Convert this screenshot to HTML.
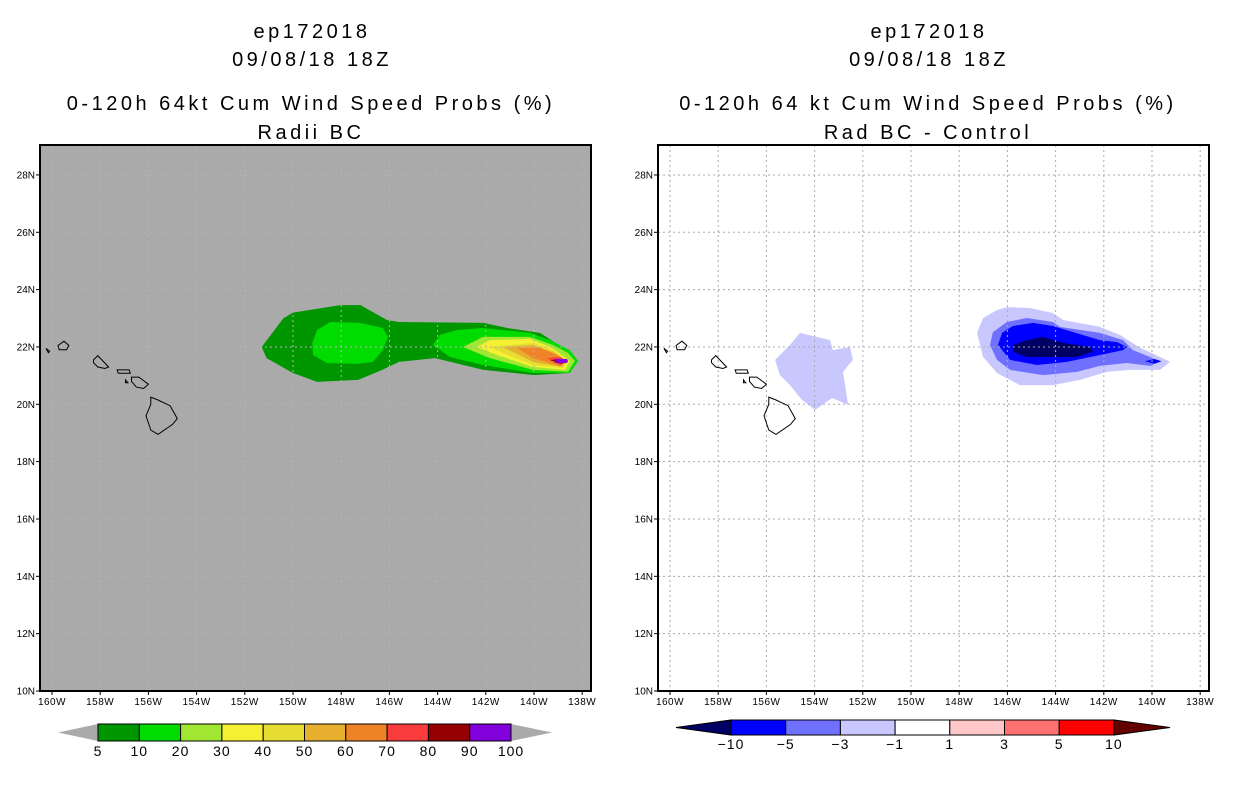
<!DOCTYPE html>
<html><head><meta charset="utf-8"><style>
body{margin:0;background:#fff;width:1236px;height:800px;overflow:hidden}
svg{display:block}
text{font-family:"Liberation Sans",sans-serif}
#titles text{letter-spacing:3.5px}
</style></head><body>
<svg id="c" width="1236" height="800">
<g id="titles" font-size="20" text-anchor="middle" fill="#000">
<text x="312" y="38">ep172018</text>
<text x="312" y="66">09/08/18 18Z</text>
<text x="311" y="110">0-120h 64kt Cum Wind Speed Probs (%)</text>
<text x="311" y="139">Radii BC</text>
<text x="929" y="38">ep172018</text>
<text x="929" y="66">09/08/18 18Z</text>
<text x="928" y="110">0-120h 64 kt Cum Wind Speed Probs (%)</text>
<text x="928" y="139">Rad BC - Control</text>
</g>
</svg>
<script>
// Probability contour levels (left panel), lon in deg W, lat in deg N
const probLevels=[5,10,20,30,40,50,60,70,80,90,100];
const probColors=["#009600","#00dc00","#a0e632","#f5f032","#e6dc32","#e6af2d","#f08228","#fa3c3c","#960000","#8200dc"];
const probContours=[
 {lvl:0,lon:[151.3,150.4,150.0,148.05,147.2,146.1,145.6,142.1,141.1,139.75,138.8,138.2,138.6,140.0,142.1,144.1,145.6,146.3,147.3,149.0,150.0,151.1],lat:[22.0,23.0,23.2,23.46,23.46,22.94,22.87,22.84,22.66,22.49,21.97,21.51,21.09,21.02,21.2,21.61,21.48,21.2,20.85,20.78,21.09,21.61]},
 {lvl:1,lon:[149.2,149.0,148.46,147.22,146.27,146.06,146.27,146.68,147.34,148.59,149.17],lat:[22.14,22.59,22.87,22.84,22.66,22.35,21.89,21.48,21.41,21.44,21.72]},
 {lvl:1,lon:[144.19,143.9,143.2,142.12,140.17,139.34,138.51,138.17,138.51,140.04,142.12,143.49],lat:[22.07,22.42,22.59,22.66,22.49,22.24,21.89,21.51,21.09,21.09,21.37,21.65]},
 {lvl:2,lon:[142.95,142.12,140.17,139.21,138.59,138.3,138.59,140.04,141.83],lat:[22.0,22.35,22.35,22.07,21.79,21.51,21.13,21.2,21.61]},
 {lvl:3,lon:[142.37,141.83,140.17,139.25,138.51,138.71,140.04,141.54],lat:[22.0,22.24,22.28,21.97,21.51,21.2,21.3,21.72]},
 {lvl:4,lon:[141.83,140.04,139.21,138.63,138.8,140.04,141.29],lat:[22.0,22.14,21.89,21.51,21.27,21.37,21.79]},
 {lvl:5,lon:[141.29,140.04,139.13,138.67,138.84,140.04],lat:[22.0,22.07,21.79,21.51,21.3,21.48]},
 {lvl:6,lon:[140.71,139.75,139.05,138.71,138.92,140.04],lat:[21.97,21.97,21.72,21.51,21.34,21.61]},
 {lvl:7,lon:[139.46,138.92,138.59,138.92],lat:[21.61,21.65,21.51,21.37]},
 {lvl:8,lon:[139.34,138.84,138.59,138.84],lat:[21.54,21.58,21.51,21.41]},
 {lvl:9,lon:[139.13,138.63,138.59,138.63,139.13],lat:[21.58,21.58,21.51,21.44,21.44]}
];
// Difference contours (right panel)
const diffLabels=["-10","-5","-3","-1","1","3","5","10"];
const diffColors=["#000064","#0000ff","#7070ff","#c8c8ff","#ffffff","#ffc8c8","#ff7070","#ff0000","#fa0000"];
const diffContours=[
 {lvl:3,lon:[147.26,147.01,146.43,146.02,145.06,144.11,143.69,142.16,141.33,140.5,139.67,139.25,139.67,140.91,141.87,142.99,144.11,145.48,146.43,147.01],lat:[22.49,23.01,23.29,23.39,23.36,23.18,22.94,22.7,22.42,21.97,21.65,21.48,21.2,21.2,21.13,20.85,20.67,20.67,21.09,21.65]},
 {lvl:3,lon:[155.02,154.61,153.36,153.24,152.53,152.41,152.82,152.61,153.28,153.98,154.52,155.02,155.44,155.64],lat:[22.07,22.49,22.24,21.89,22.0,21.55,21.13,19.98,20.22,19.8,20.15,20.67,21.02,21.55]},
 {lvl:2,lon:[146.72,146.6,146.02,145.19,144.11,143.82,142.16,141.2,140.79,140.08,139.67,140.08,141.04,142.16,143.11,144.52,145.89,146.43],lat:[22.07,22.52,22.87,23.01,22.87,22.7,22.49,22.24,21.89,21.65,21.48,21.34,21.44,21.34,21.13,21.02,21.2,21.55]},
 {lvl:1,lon:[146.39,146.22,145.77,144.94,144.11,142.16,141.45,141.04,141.2,142.16,143.53,144.77,145.89],lat:[22.07,22.49,22.73,22.84,22.73,22.24,22.17,22.0,21.89,21.72,21.48,21.37,21.55]},
 {lvl:1,lon:[140.3,139.9,139.6,139.9],lat:[21.5,21.58,21.5,21.42]},
 {lvl:0,lon:[145.77,145.19,144.52,143.69,142.57,142.45,143.11,144.23,145.19,145.77],lat:[22.07,22.24,22.35,22.14,22.0,21.83,21.65,21.65,21.65,21.83]}
];
const lonTicks=[160,158,156,154,152,150,148,146,144,142,140,138];
const latTicks=[10,12,14,16,18,20,22,24,26,28];
const islands=[
 {lon:[155.9,155.6,155.1,154.8,155.0,155.6,155.9,156.1,155.9],lat:[20.25,20.15,19.95,19.5,19.3,18.95,19.1,19.6,20.0]},
 {lon:[156.7,156.4,156.0,156.2,156.5,156.7],lat:[20.95,20.95,20.7,20.55,20.6,20.8]},
 {lon:[157.3,156.8,156.75,157.25],lat:[21.2,21.2,21.08,21.08]},
 {lon:[156.95,156.85,156.95],lat:[20.85,20.75,20.75]},
 {lon:[158.28,158.1,157.65,157.8,158.1,158.28],lat:[21.55,21.7,21.3,21.25,21.3,21.45]},
 {lon:[159.75,159.5,159.3,159.4,159.7],lat:[22.05,22.2,22.05,21.9,21.9]},
 {lon:[160.25,160.1,160.15],lat:[21.95,21.85,21.8]}
];
const NS="http://www.w3.org/2000/svg";
const svg=document.getElementById('c');
function mk(t,a,p){const e=document.createElementNS(NS,t);for(const k in a)e.setAttribute(k,a[k]);(p||svg).appendChild(e);return e;}
function xS(lon,off){return 52+off+(160-lon)*24.1;}
function yS(lat){return 691-(lat-10)*28.67;}
function pts(c,off){return c.lon.map((l,i)=>xS(l,off).toFixed(1)+","+yS(c.lat[i]).toFixed(1)).join(" ");}
function panel(off,bg,contours,colors,gridCol,name){
 const g=mk('g',{});
 
 
 const r=mk('rect',{x:40+off,y:145,width:551,height:546,fill:bg},g);
 
 
 contours.forEach((c,i)=>{const p=mk('polygon',{points:pts(c,off),fill:colors[c.lvl]},g);
  
  });
 lonTicks.forEach(l=>{const x=xS(l,off);
  mk('line',{x1:x,x2:x,y1:145,y2:691,stroke:gridCol,'stroke-dasharray':'2,3','stroke-width':1},g);
  mk('line',{x1:x,x2:x,y1:691,y2:695,stroke:'#000'},g);
  const t=mk('text',{x:x,y:705,'font-size':10,'text-anchor':'middle','letter-spacing':'0.5'},g);t.textContent=l+'W';
  
  });
 latTicks.forEach(l=>{const y=yS(l);
  mk('line',{x1:40+off,x2:591+off,y1:y,y2:y,stroke:gridCol,'stroke-dasharray':'2,3','stroke-width':1},g);
  mk('line',{x1:36+off,x2:40+off,y1:y,y2:y,stroke:'#000'},g);
  const t=mk('text',{x:35+off,y:y+3.5,'font-size':10,'text-anchor':'end'},g);t.textContent=l+'N';
  
  });
 islands.forEach(c=>{const p=mk('polygon',{points:pts(c,off),fill:'none',stroke:'#000','stroke-width':1},g);
  
  });
 mk('rect',{x:40+off,y:145,width:551,height:546,fill:'none',stroke:'#000','stroke-width':2},g);
}
panel(0,'#aaaaaa',probContours,probColors,'#b4b4b4','left');
panel(618,'#ffffff',diffContours,diffColors,'#aaaaaa','right');
// left colorbar
(function(){const x0=98,w=41.3,y0=724,h=17;
 mk('polygon',{points:`${x0},${y0} ${x0},${y0+h} 58,${y0+h/2}`,fill:'#aaaaaa'});
 const x1=x0+w*probColors.length;
 mk('polygon',{points:`${x1},${y0} ${x1},${y0+h} 552,${y0+h/2}`,fill:'#aaaaaa'});
 probColors.forEach((c,i)=>{const r=mk('rect',{x:x0+i*w,y:y0,width:w,height:h,fill:c,stroke:'#000','stroke-width':1});
  
  });
 probLevels.forEach((v,i)=>{const t=mk('text',{x:x0+i*w,y:756,'font-size':14,'text-anchor':'middle','letter-spacing':'1'});t.textContent=v;
  
  });
})();
// right colorbar
(function(){const x0=731,w=54.7,y0=720,h=15;
 mk('polygon',{points:`${x0},${y0} ${x0},${y0+h} 676,${y0+h/2}`,fill:diffColors[0]});
 for(let i=1;i<8;i++){const r=mk('rect',{x:x0+(i-1)*w,y:y0,width:w,height:h,fill:diffColors[i],stroke:'#000','stroke-width':1});
  
  }
 const x1=x0+7*w;
 mk('polygon',{points:`${x1},${y0} ${x1},${y0+h} 1170,${y0+h/2}`,fill:'#640000',stroke:'#000'});
 mk('polygon',{points:`${x0},${y0} ${x0},${y0+h} 676,${y0+h/2}`,fill:'none',stroke:'#000'});
 diffLabels.forEach((v,i)=>{const t=mk('text',{x:x0+i*w,y:749,'font-size':14,'text-anchor':'middle','letter-spacing':'1'});t.textContent=v.replace('-','\u2212');
  
  });
})();
</script>
</body></html>
